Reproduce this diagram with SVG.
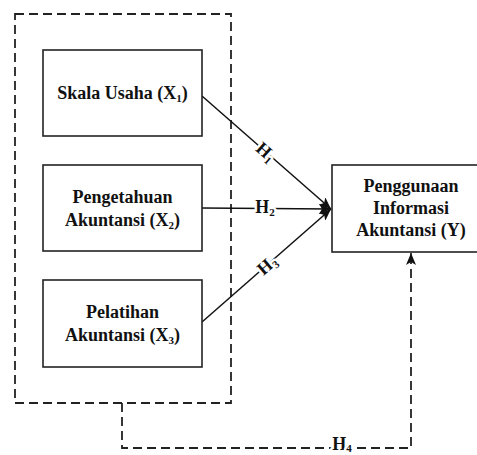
<svg xmlns="http://www.w3.org/2000/svg" width="477" height="455" viewBox="0 0 477 455">
<style>
.box{fill:#fff;stroke:#222;stroke-width:1.6}
.dash{fill:none;stroke:#222;stroke-width:1.8;stroke-dasharray:9 5}
.ln{fill:none;stroke:#111;stroke-width:1.5}
.t{font-family:"Liberation Serif","DejaVu Serif","Times New Roman",serif;font-weight:bold;font-size:18px;fill:#111;text-anchor:middle}
.lbl{font-size:18px;stroke:#fff;stroke-width:5;paint-order:stroke;stroke-linejoin:round}
.sub{font-size:11px}
</style>
<defs>
<marker id="ah" viewBox="0 0 12 10" refX="12" refY="5" markerWidth="13" markerHeight="10" markerUnits="userSpaceOnUse" orient="auto">
<path d="M0,0 L12,5 L0,10 L3,5 Z" fill="#111"/>
</marker>
</defs>
<rect width="477" height="455" fill="#fff"/>
<g id="group-x">
<rect class="dash" x="15" y="14" width="216" height="389"/>
</g>
<g id="connectors">
<line class="ln" x1="202" y1="96" x2="331" y2="209" marker-end="url(#ah)"/>
<line class="ln" x1="202" y1="208" x2="331" y2="209" marker-end="url(#ah)"/>
<line class="ln" x1="202" y1="322" x2="331" y2="209" marker-end="url(#ah)"/>
<path class="dash" d="M122,403 V448 H411 V262"/>
<line class="ln" x1="411" y1="262" x2="411" y2="253" marker-end="url(#ah)"/>
<text class="t lbl" font-family="Liberation Serif, DejaVu Serif, serif" transform="translate(266,152) rotate(41.2)" y="6">H<tspan class="sub" dy="3">1</tspan></text>
<text class="t lbl" font-family="Liberation Serif, DejaVu Serif, serif" x="265" y="213">H<tspan class="sub" dy="3">2</tspan></text>
<text class="t lbl" font-family="Liberation Serif, DejaVu Serif, serif" transform="translate(267,265) rotate(-41.2)" y="6">H<tspan class="sub" dy="3">3</tspan></text>
<text class="t lbl" font-family="Liberation Serif, DejaVu Serif, serif" x="342" y="450">H<tspan class="sub" dy="2">4</tspan></text>
</g>
<g id="x1">
<rect class="box" x="43" y="50" width="159" height="86"/>
<text class="t" font-family="Liberation Serif, DejaVu Serif, serif" x="122.5" y="99">Skala Usaha (X<tspan class="sub" dy="3">1</tspan><tspan dy="-3">)</tspan></text>
</g>
<g id="x2">
<rect class="box" x="43" y="165" width="159" height="86"/>
<text class="t" font-family="Liberation Serif, DejaVu Serif, serif" x="122.5" y="203">Pengetahuan</text>
<text class="t" font-family="Liberation Serif, DejaVu Serif, serif" x="122.5" y="226">Akuntansi (X<tspan class="sub" dy="3">2</tspan><tspan dy="-3">)</tspan></text>
</g>
<g id="x3">
<rect class="box" x="43" y="280" width="159" height="87"/>
<text class="t" font-family="Liberation Serif, DejaVu Serif, serif" x="122.5" y="318">Pelatihan</text>
<text class="t" font-family="Liberation Serif, DejaVu Serif, serif" x="122.5" y="341">Akuntansi (X<tspan class="sub" dy="3">3</tspan><tspan dy="-3">)</tspan></text>
</g>
<g id="y">
<rect class="box" x="332" y="165" width="158" height="87"/>
<text class="t" font-family="Liberation Serif, DejaVu Serif, serif" x="411" y="192">Penggunaan</text>
<text class="t" font-family="Liberation Serif, DejaVu Serif, serif" x="411" y="214">Informasi</text>
<text class="t" font-family="Liberation Serif, DejaVu Serif, serif" x="411" y="236">Akuntansi (Y)</text>
</g>
</svg>
